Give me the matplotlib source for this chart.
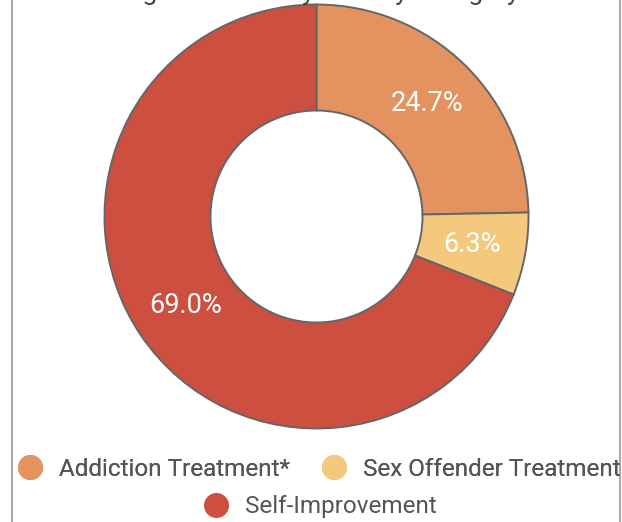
import matplotlib
matplotlib.use("Agg")
import matplotlib.pyplot as plt
from matplotlib.lines import Line2D

# ─────────────────────────────────────────────────────────────
# Data
# ─────────────────────────────────────────────────────────────
categories = ["Addiction Treatment*", "Sex Offender Treatment", "Self-Improvement"]
shares     = [24.7, 6.3, 69.0]
colors     = ["#E39260", "#F4C97D", "#CD4F3F"]
title      = "Program Hours by Activity Category"

plt.rcParams["font.family"] = ["Roboto", "DejaVu Sans"]

W, H = 622, 522
fig = plt.figure(figsize=(W / 100, H / 100), dpi=100)
fig.patch.set_facecolor("white")

# pie axes: centre (316.5, 216.5), outer radius ~212 px
cx, cy, r = 316.5, 216.5, 212
ax = fig.add_axes([(cx - r) / W, 1 - (cy + r) / H, 2 * r / W, 2 * r / H])

wedges, texts, autotexts = ax.pie(
    shares,
    colors=colors,
    startangle=90,
    counterclock=False,
    autopct="%.1f%%",
    pctdistance=0.745,
    radius=1.0,
    wedgeprops=dict(width=0.5, edgecolor="#666666", linewidth=1.4),
    textprops=dict(color="white", fontsize=19.5),
)
ax.set_xlim(-1.0, 1.0)
ax.set_ylim(-1.0, 1.0)
ax.set_aspect("equal")

# title (cut off at the top in the original)
fig.text(0.5, 1.0, title, ha="center", va="baseline",
         fontsize=19, color="#444444")

# outer frame lines
for x in (11.5 / W, 619.5 / W):
    fig.add_artist(Line2D([x, x], [0, 1], color="#AAAAAA", linewidth=1.5,
                          transform=fig.transFigure))

# legend: two rows, each centred
def _handle(c):
    return Line2D([], [], marker="o", linestyle="none", markersize=17,
                  markerfacecolor=c, markeredgecolor=c)

leg_kw = dict(frameon=False, fontsize=17.5, labelcolor="#555555",
              handletextpad=0.7, columnspacing=1.3, handlelength=1.0,
              borderaxespad=0, borderpad=0, loc="center")

leg1 = fig.legend([_handle(c) for c in colors[:2]], categories[:2], ncol=2,
                  bbox_to_anchor=(319 / W, 1 - 469 / H), **leg_kw)
fig.add_artist(leg1)
fig.legend([_handle(colors[2])], categories[2:], ncol=1,
           bbox_to_anchor=(320 / W, 1 - 507 / H), **leg_kw)

fig.savefig("out.png", dpi=100)
